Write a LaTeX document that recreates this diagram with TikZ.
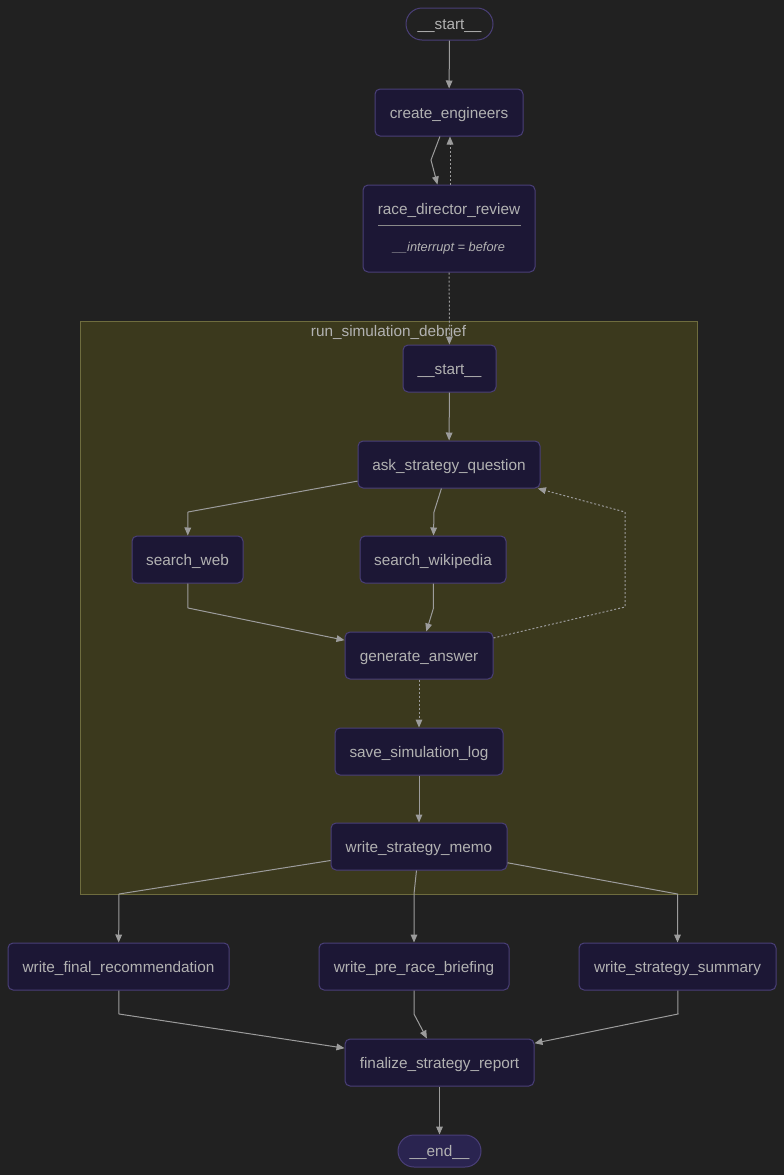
\documentclass[tikz,border=0pt]{standalone}
\usepackage{fontspec}
\setmainfont{Liberation Sans}
\newfontfamily\nodefnt{Liberation Sans}
\usetikzlibrary{arrows.meta}
\definecolor{bg}{HTML}{212121}
\definecolor{nodefill}{HTML}{1C1735}
\definecolor{nodeborder}{HTML}{4A3F78}
\definecolor{pillfill}{HTML}{2A2450}
\definecolor{txt}{HTML}{B2B2B2}
\definecolor{edgecol}{HTML}{9C9C9C}
\definecolor{clfill}{HTML}{3B391D}
\definecolor{clborder}{HTML}{6E6C3E}
\definecolor{sepline}{HTML}{8A8A8A}
\tikzset{
  box/.style={draw=nodeborder, fill=nodefill, rounded corners=3.75pt, line width=0.75pt,
    text=txt, font=\nodefnt\fontsize{11.5}{13}\selectfont, inner sep=0pt, minimum height=35.25pt,
    text height=9.5pt, text depth=1pt},
  pill/.style={box, fill=pillfill, rounded corners=12pt, minimum height=24pt},
  plaintext/.style={text=txt, font=\nodefnt\fontsize{11.5}{13}\selectfont, inner sep=0pt,
    text height=9.5pt, text depth=1pt},
  notetext/.style={text=txt, font=\nodefnt\itshape\fontsize{9.6}{11}\selectfont, inner sep=0pt,
    text height=8pt, text depth=0.8pt},
  cluster/.style={draw=clborder, fill=clfill, line width=0.75pt, inner sep=0pt},
  edge/.style={draw=edgecol, line width=0.75pt, -{Triangle[length=6pt,width=5pt]}},
  dotedge/.style={edge, dash pattern=on 1.5pt off 1.5pt},
}
\begin{document}
\begin{tikzpicture}[x=0.75pt, y=-0.75pt]
\fill[bg] (0,0) rectangle (784,1175);
\useasboundingbox (0,0) rectangle (784,1175);

% cluster
\node[cluster, minimum width=462.75pt, minimum height=429.75pt] (sub) at (388.5,607.5) {};
\node[plaintext] (sublabel) at (388.5,331) {run\_simulation\_debrief};

% top nodes
\node[pill, fill=bg, minimum width=65.25pt] (start) at (449.5,24) {\_\_start\_\_};
\node[box, minimum width=111pt] (ce) at (449,112.5) {create\_engineers};
\node[box, minimum width=129pt, minimum height=65.25pt] (rdr) at (449,228.5) {};
\node[plaintext] (rdrtitle) at (449,208.5) {race\_director\_review};
\draw[sepline, line width=0.75pt] (378,225) -- (521,225);
\node[notetext] (rdrnote) at (449,246.5) {\_\_interrupt = before};

% subgraph nodes
\node[box, minimum width=69.75pt] (s2) at (449.5,368.5) {\_\_start\_\_};
\node[box, minimum width=136.5pt] (ask) at (449,464.5) {ask\_strategy\_question};
\node[box, minimum width=83.25pt] (sw) at (187.5,559.5) {search\_web};
\node[box, minimum width=109.5pt] (wiki) at (433,559.5) {search\_wikipedia};
\node[box, minimum width=111pt] (gen) at (419,655.5) {generate\_answer};
\node[box, minimum width=126pt] (save) at (419,751.5) {save\_simulation\_log};
\node[box, minimum width=132pt] (memo) at (419,846.5) {write\_strategy\_memo};

% bottom nodes
\node[box, minimum width=165.75pt] (fin) at (118.5,966.5) {write\_final\_recommendation};
\node[box, minimum width=142.5pt] (pre) at (414,966.5) {write\_pre\_race\_briefing};
\node[box, minimum width=147.75pt] (sum) at (677.5,966.5) {write\_strategy\_summary};
\node[box, minimum width=141.75pt] (rep) at (439.5,1062.5) {finalize\_strategy\_report};
\node[pill, minimum width=62.25pt] (end) at (439.5,1151) {\_\_end\_\_};

% bend coordinates
\coordinate (b2) at (431,160);
\coordinate (b6) at (188,512);
\coordinate (b7) at (434,512);
\coordinate (b8) at (188,608);
\coordinate (b9) at (433.5,608);
\coordinate (b10a) at (625,607);
\coordinate (b10b) at (625,512);
\coordinate (b13) at (119,894);
\coordinate (b14) at (414,894);
\coordinate (b15) at (677.5,894);
\coordinate (b16) at (119,1014);
\coordinate (b17) at (414,1014);
\coordinate (b18) at (678,1014);

% edges
\draw[edge] (start) -- (ce);
\draw[edge] (ce) -- (b2) -- (rdr);
\draw[dotedge] ([xshift=0.75pt]rdr.north) -- ([xshift=0.75pt]ce.south);
\draw[dotedge] (rdr) -- (s2);
\draw[edge] (s2) -- (ask);
\draw[edge] (ask) -- (b6) -- (sw);
\draw[edge] (ask) -- (b7) -- (wiki);
\draw[edge] (sw) -- (b8) -- (gen);
\draw[edge] (wiki) -- (b9) -- (gen);
\draw[dotedge] (gen) -- (b10a) -- (b10b) -- (ask);
\draw[dotedge] (gen) -- (save);
\draw[edge] (save) -- (memo);
\draw[edge] (memo) -- (b13) -- (fin);
\draw[edge] (memo) -- (b14) -- (pre);
\draw[edge] (memo) -- (b15) -- (sum);
\draw[edge] (fin) -- (b16) -- (rep);
\draw[edge] (pre) -- (b17) -- (rep);
\draw[edge] (sum) -- (b18) -- (rep);
\draw[edge] (rep) -- (end);
\end{tikzpicture}
\end{document}
